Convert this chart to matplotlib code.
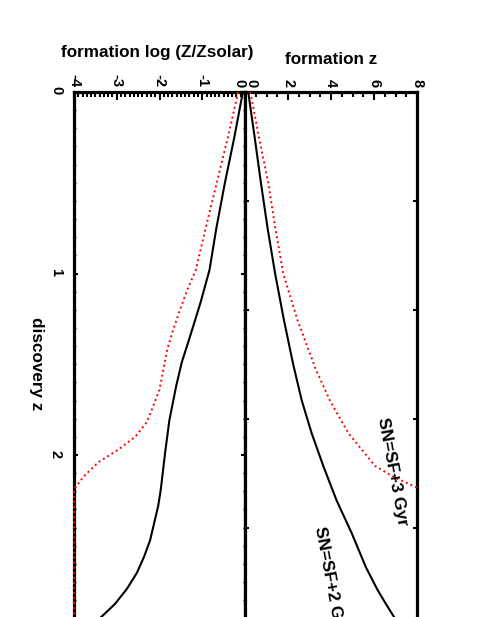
import matplotlib
matplotlib.use('Agg')
import matplotlib.pyplot as plt
from matplotlib.ticker import MultipleLocator, FixedLocator, FixedFormatter

plt.rcParams['font.family'] = ['Liberation Sans', 'DejaVu Sans']
plt.rcParams['font.weight'] = 'bold'
plt.rcParams['axes.unicode_minus'] = False

# ---- data ----
# formation redshift vs discovery redshift
z_disc_2gyr = [0.0, 0.25, 0.5, 0.75, 1.0, 1.25, 1.5, 1.70, 1.88, 2.06, 2.25, 2.43, 2.62,
               2.74, 2.82, 2.89, 3.0]
zf_2gyr     = [0.15, 0.45, 0.74, 1.05, 1.40, 1.80, 2.24, 2.64, 3.10, 3.64, 4.26, 4.96, 5.63,
               6.15, 6.55, 6.92, 7.45]

z_disc_3gyr = [0.0, 0.25, 0.5, 0.75, 1.0, 1.26, 1.53, 1.70, 1.88, 2.06, 2.12, 2.18]
zf_3gyr     = [0.25, 0.65, 1.08, 1.41, 1.78, 2.45, 3.30, 3.95, 4.81, 6.05, 6.90, 8.0]

# formation metallicity vs discovery redshift
zm_disc_2gyr = [0.0, 0.25, 0.5, 0.75, 0.98, 1.16, 1.35, 1.49, 1.62, 1.81, 1.99, 2.19, 2.28,
                2.38, 2.47, 2.56, 2.65, 2.74, 2.82, 2.89, 3.0]
logZ_2gyr    = [-0.05, -0.25, -0.47, -0.67, -0.83, -1.04, -1.29, -1.48, -1.61, -1.77, -1.87,
                -1.97, -2.03, -2.13, -2.22, -2.36, -2.53, -2.77, -3.04, -3.35, -3.95]

zm_disc_3gyr = [0.0, 0.25, 0.5, 0.75, 0.98, 1.09, 1.20, 1.31, 1.42, 1.53, 1.64, 1.75, 1.82,
                1.90, 1.97, 2.04, 2.12, 2.19, 3.0]
logZ_3gyr    = [-0.16, -0.40, -0.66, -0.92, -1.15, -1.35, -1.52, -1.68, -1.82, -1.91, -2.00,
                -2.18, -2.30, -2.57, -2.96, -3.43, -3.78, -4.0, -4.0]

logZ_ticks = [-4, -3, -2, -1, 0]
logZ_labels = ['-4', '-3', '-2', '-1', '']
zf_ticks = [0, 2, 4, 6, 8]
zf_labels = ['', '2', '4', '6', '8']
disc_ticks = [0, 1, 2, 3]
disc_labels = ['0', '1', '2', '']

W, H = 490, 617
fig = plt.figure(figsize=(W / 100, H / 100), dpi=100)

top = 1 - 92 / H
h = 3 * 181.5 / H
ax1 = fig.add_axes([74 / W, top - h, 171 / W, h])
ax2 = fig.add_axes([245 / W, top - h, 172 / W, h])

lw_sp = 2.3
for ax in (ax1, ax2):
    for s in ax.spines.values():
        s.set_linewidth(lw_sp)
    ax.set_ylim(3, 0)
    ax.xaxis.tick_top()
    ax.tick_params(axis='x', which='both', direction='in', top=True, bottom=False,
                   labeltop=True, labelbottom=False, labelrotation=-90, pad=3.5,
                   labelsize=10.5, width=1.5)
    ax.tick_params(axis='x', which='major', length=6)
    ax.tick_params(axis='x', which='minor', length=3.5)

# left panel: metallicity
ax1.set_xlim(-4, 0)
ax1.xaxis.set_major_locator(FixedLocator(logZ_ticks))
ax1.xaxis.set_major_formatter(FixedFormatter(logZ_labels))
ax1.xaxis.set_minor_locator(MultipleLocator(0.1))
ax1.yaxis.set_major_locator(FixedLocator(disc_ticks))
ax1.yaxis.set_major_formatter(FixedFormatter(disc_labels))
ax1.yaxis.set_minor_locator(MultipleLocator(0.1))
ax1.tick_params(axis='y', which='both', direction='in', left=True, right=True,
                labelleft=True, labelright=False, labelrotation=-90, labelsize=10.5, pad=8)
ax1.tick_params(axis='y', which='major', length=3, width=1.5)
ax1.tick_params(axis='y', which='minor', length=1.5, width=1.0)

ax1.plot(logZ_2gyr, zm_disc_2gyr, color='black', lw=1.5, clip_on=False, zorder=3)
ax1.plot(logZ_3gyr, zm_disc_3gyr, color='red', lw=1.4, ls=(0, (1, 1.6)), clip_on=False, zorder=3)

# right panel: formation redshift
ax2.set_xlim(0, 8)
ax2.xaxis.set_major_locator(FixedLocator(zf_ticks))
ax2.xaxis.set_major_formatter(FixedFormatter(zf_labels))
ax2.xaxis.set_minor_locator(MultipleLocator(0.5))
ax2.yaxis.set_major_locator(MultipleLocator(0.6))
ax2.tick_params(axis='y', which='both', direction='in', left=True, right=True,
                labelleft=False, labelright=False, length=3, width=1.5)

ax2.plot(zf_2gyr, z_disc_2gyr, color='black', lw=1.5, clip_on=False, zorder=3)
ax2.plot(zf_3gyr, z_disc_3gyr, color='red', lw=1.4, ls=(0, (1, 1.6)), clip_on=False, zorder=3)

ax2.text(6.84, 2.09, 'SN=SF+3 Gyr', rotation=-79.4, rotation_mode='anchor',
         ha='center', va='center', fontsize=12.3, fontweight='bold')
ax2.text(3.91, 2.694, 'SN=SF+2 Gyr', rotation=-79.4, rotation_mode='anchor',
         ha='center', va='center', fontsize=12.3, fontweight='bold', clip_on=False)

# the two zeros at the shared edge
fig.text(239 / W, 1 - 87 / H, '0', rotation=-90, ha='center', va='bottom', fontsize=10.5,
         fontweight='bold')
fig.text(251 / W, 1 - 87 / H, '0', rotation=-90, ha='center', va='bottom', fontsize=10.5,
         fontweight='bold')

# axis titles
fig.text(157.5 / W, 1 - 57 / H, 'formation log (Z/Zsolar)', ha='center', va='baseline',
         fontsize=12.3, fontweight='bold')
fig.text(331 / W, 1 - 64 / H, 'formation z', ha='center', va='baseline',
         fontsize=12.3, fontweight='bold')
fig.text(36 / W, 1 - 364 / H, 'discovery z', rotation=-90, ha='center', va='center',
         fontsize=12.3, fontweight='bold')

fig.savefig('out.png', dpi=100)
